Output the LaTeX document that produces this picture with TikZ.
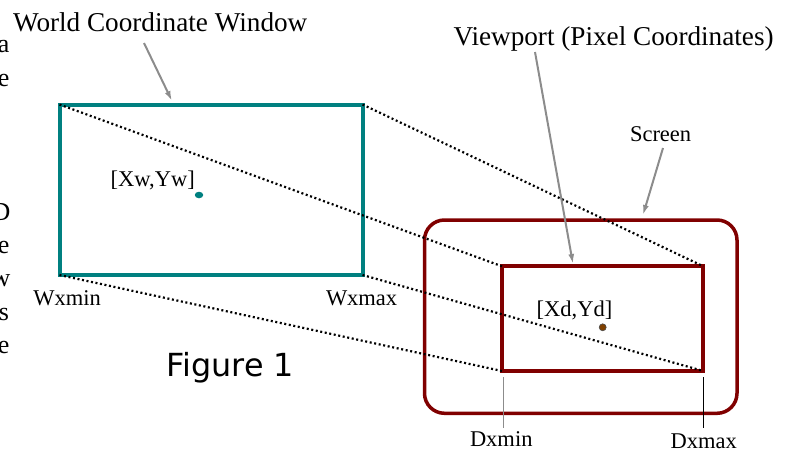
\documentclass[tikz,border=0pt]{standalone}
\usepackage{fontspec}
\setmainfont{Liberation Serif}
\newfontfamily\figsans{DejaVu Sans}
\usetikzlibrary{arrows.meta,shapes.geometric}
\definecolor{tealc}{RGB}{0,128,128}
\definecolor{maroonc}{RGB}{128,0,0}
\definecolor{arrowgray}{RGB}{140,140,140}
\definecolor{dotbrown}{RGB}{128,64,0}
\tikzset{
  boxbase/.style={draw, inner sep=0pt, outer sep=0pt, fill=none},
  winbox/.style={boxbase, draw=tealc, line width=4pt},
  scrbox/.style={boxbase, draw=maroonc, line width=3.5pt, rounded corners=20pt},
  vpbox/.style={boxbase, draw=maroonc, line width=4pt},
  proj/.style={line width=2.2pt, dash pattern=on 2pt off 2.6pt},
  ptr/.style={draw=arrowgray, line width=2pt, -{Latex[length=10pt,width=6pt]}},
  tick/.style={line width=1pt},
  lbl/.style={inner sep=0pt, outer sep=0pt, anchor=base west, font=\fontsize{22.5}{27}\selectfont},
  big/.style={inner sep=0pt, outer sep=0pt, anchor=base west, font=\fontsize{27.2}{32}\selectfont},
  edge/.style={inner sep=0pt, outer sep=0pt, anchor=base east, font=\fontsize{26}{32}\selectfont},
}
\begin{document}
\begin{tikzpicture}[x=1pt,y=-1pt]
\useasboundingbox (0,0) rectangle (785,450);
% cut-off text at left edge
\node[edge] (e1) at (9.5,52.5) {a};
\node[edge] (e2) at (9.5,86) {e};
\node[edge] (e3) at (10.5,220) {D};
\node[edge] (e4) at (9.5,253) {e};
\node[edge] (e5) at (10.5,286.5) {w};
\node[edge] (e6) at (9,320) {s};
\node[edge] (e7) at (9.5,353.5) {e};
% boxes
\node[winbox, minimum width=303pt, minimum height=170.5pt] (win) at (211,189.75) {};
\node[scrbox, minimum width=312.5pt, minimum height=193.3pt] (scr) at (580.75,316.65) {};
\node[vpbox, minimum width=201.3pt, minimum height=104.7pt] (vp) at (602.65,318.65) {};
% projection lines
\draw[proj] (win.north west) -- (vp.north west);
\draw[proj] (win.north east) -- (vp.north east);
\draw[proj] (win.south east) -- (vp.south east);
\draw[proj] (win.south west) -- (vp.south west);
% points
\node[ellipse, fill=tealc, inner sep=0pt, minimum width=8.5pt, minimum height=6.5pt] (pw) at (199,195) {};
\node[circle, fill=dotbrown, draw=black!70, line width=0.6pt, inner sep=0pt, minimum size=7pt] (pd) at (602.7,327.3) {};
% labels
\node[big] (twin) at (13,31.5) {World Coordinate Window};
\node[big] (tvp) at (453.5,45) {Viewport (Pixel Coordinates)};
\node[lbl] (tscr) at (630,141.5) {Screen};
\node[lbl] (tpw) at (110.7,186.7) {[Xw,Yw]};
\node[lbl] (tpd) at (536.7,316.7) {[Xd,Yd]};
\node[lbl] (twmin) at (33.3,305) {Wxmin};
\node[lbl] (twmax) at (326,305) {Wxmax};
\node[lbl] (tdmin) at (470,446.7) {Dxmin};
\node[lbl] (tdmax) at (670.7,448.5) {Dxmax};
\node[inner sep=0pt, anchor=base west, font=\figsans\fontsize{31.8}{38}\selectfont] (fig) at (166.5,376.7) {Figure 1};
% pointer arrows
\coordinate (a1s) at (144,43);
\coordinate (a1e) at (172,101);
\coordinate (a2s) at (535,52);
\coordinate (a2e) at (573,264);
\coordinate (a3s) at (663,148);
\coordinate (a3e) at (643,215);
\draw[ptr] (a1s) -- (a1e);
\draw[ptr] (a2s) -- (a2e);
\draw[ptr] (a3s) -- (a3e);
% ticks
\coordinate (t1s) at (503,377);
\coordinate (t1e) at (503,428);
\coordinate (t2s) at (703,377);
\coordinate (t2e) at (703,428);
\draw[tick, draw=arrowgray] (t1s) -- (t1e);
\draw[tick, draw=black] (t2s) -- (t2e);
\end{tikzpicture}
\end{document}
